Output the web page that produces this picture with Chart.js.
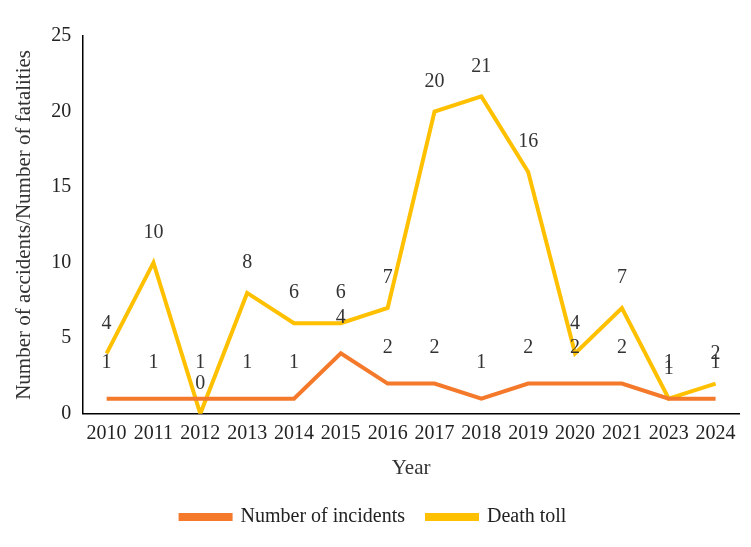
<!DOCTYPE html>
<html><head><meta charset="utf-8">
<script src="https://cdn.jsdelivr.net/npm/chart.js@4"></script>
<style>html,body{margin:0;background:#fff}#wrap{width:751px;height:547px}</style>
</head><body><div id="wrap"><canvas id="c"></canvas></div>
<script>
const years = ['2010','2011','2012','2013','2014','2015','2016','2017','2018','2019','2020','2021','2023','2024'];
const incidents = [1,1,1,1,1,4,2,2,1,2,2,2,1,1];
const deaths = [4,10,0,8,6,6,7,20,21,16,4,7,1,2];
const yTicks = [0,5,10,15,20,25];

const font = 'Liberation Serif';
const valueLabels = {
  id: 'valueLabels',
  afterDatasetsDraw(chart) {
    const c = chart.ctx;
    c.save();
    c.font = '20px "' + font + '"';
    c.fillStyle = '#333';
    c.textAlign = 'center';
    c.textBaseline = 'middle';
    chart.data.datasets.forEach((ds, i) => {
      const meta = chart.getDatasetMeta(i);
      const off = i === 0 ? 36 : 30;
      meta.data.forEach((p, j) => c.fillText(ds.data[j], p.x, p.y - off));
    });
    c.restore();
  }
};

new Chart(document.getElementById('c'), {
  type: 'line',
  data: {
    labels: years,
    datasets: [
      { label: 'Number of incidents', data: incidents, borderColor: '#F4792B', backgroundColor: '#F4792B', borderWidth: 4, pointRadius: 0, tension: 0 },
      { label: 'Death toll', data: deaths, borderColor: '#FFC000', backgroundColor: '#FFC000', borderWidth: 4, pointRadius: 0, tension: 0 }
    ]
  },
  options: {
    responsive: true, maintainAspectRatio: false, animation: false,
    layout: { padding: { top: 36, right: 12, left: 8, bottom: 10 } },
    plugins: {
      tooltip: { enabled: false },
      legend: {
        position: 'bottom',
        labels: { font: { family: font, size: 20 }, color: '#222', boxWidth: 50, boxHeight: 4, padding: 22 }
      }
    },
    scales: {
      x: {
        offset: true,
        grid: { display: false, drawTicks: true, tickLength: 6 },
        border: { color: '#000', width: 1.5 },
        ticks: { font: { family: font, size: 20 }, color: '#222', maxRotation: 0, autoSkip: false, padding: 2 },
        title: { display: true, text: 'Year', font: { family: font, size: 21 }, color: '#333', padding: { top: 8 } }
      },
      y: {
        min: 0, max: 25,
        afterBuildTicks: ax => { ax.ticks = yTicks.map(v => ({ value: v })); },
        grid: { display: false, drawTicks: true, tickLength: 6 },
        border: { color: '#000', width: 1.5 },
        ticks: { font: { family: font, size: 20 }, color: '#222', padding: 6 },
        title: { display: true, text: 'Number of accidents/Number of fatalities', font: { family: font, size: 21 }, color: '#333', padding: { bottom: 8 } }
      }
    }
  },
  plugins: [valueLabels]
});
</script></body></html>
